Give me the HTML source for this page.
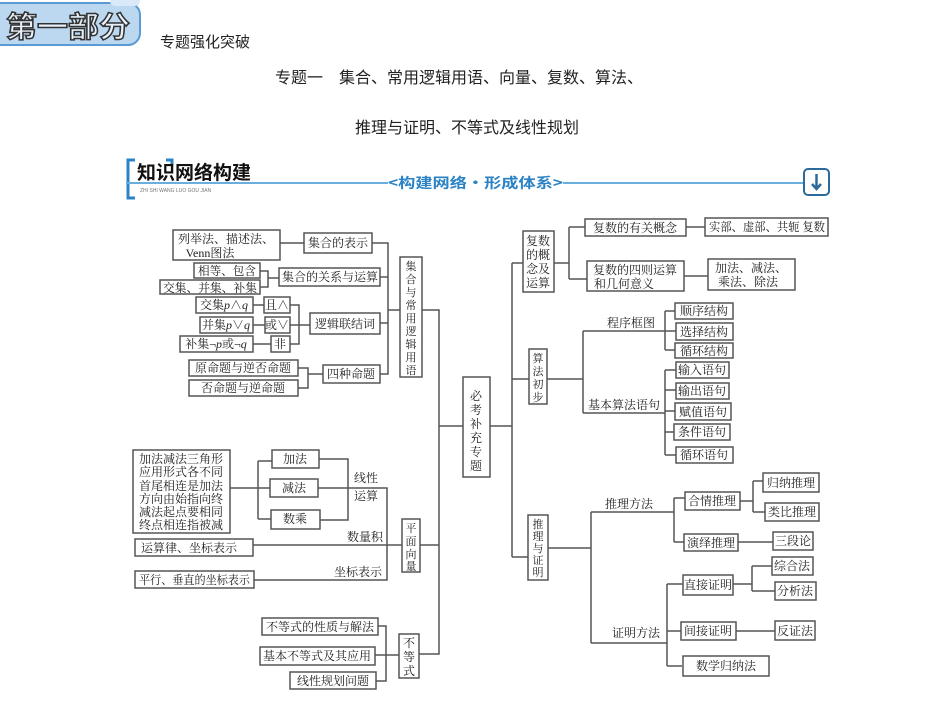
<!DOCTYPE html>
<html><head><meta charset="utf-8"><style>
html,body{margin:0;padding:0;background:#fff;}
svg{display:block;}
.b{fill:#fff;stroke:#555;stroke-width:1.5;}
.l{stroke:#555;stroke-width:1.5;fill:none;}
text{font-family:"Liberation Serif","Noto Serif CJK SC",serif;font-size:12px;fill:#222;}
.c{text-anchor:middle;}
.v{font-size:11px;}
</style></head><body>
<svg width="940" height="701" viewBox="0 0 940 701" xmlns="http://www.w3.org/2000/svg">
<!-- header -->
<rect x="-10" y="3" width="150" height="42" rx="12" fill="#bcd8f1" stroke="#5b9bd5" stroke-width="2"/>
<rect x="110" y="-6" width="30" height="12" rx="5" fill="#d9e9f7"/>
<text x="6" y="37" textLength="124" lengthAdjust="spacingAndGlyphs" style="font-family:'Noto Sans CJK SC',sans-serif;font-size:29px;font-weight:bold;fill:#e8f1fa;stroke:#333;stroke-width:1.5;">第一部分</text>
<text x="160" y="47" style="font-family:'Noto Sans CJK SC',sans-serif;font-size:15px;">专题强化突破</text>
<text x="275" y="83" style="font-family:'Noto Sans CJK SC',sans-serif;font-size:16px;">专题一　集合、常用逻辑用语、向量、复数、算法、</text>
<text x="355" y="133" style="font-family:'Noto Sans CJK SC',sans-serif;font-size:16px;">推理与证明、不等式及线性规划</text>
<!-- knowledge header -->
<path d="M135 160 H128 V198 H135" stroke="#2b83c6" stroke-width="3" fill="none"/>
<path d="M166 160 H172 V166" stroke="#2b83c6" stroke-width="3" fill="none"/>
<text x="137" y="179" style="font-family:'Noto Sans CJK SC',sans-serif;font-size:19px;font-weight:bold;fill:#111;">知识网络构建</text>
<line x1="126" y1="183" x2="388" y2="183" stroke="#6aaede" stroke-width="2"/>
<line x1="563" y1="183" x2="804" y2="183" stroke="#6aaede" stroke-width="2"/>
<text x="140" y="192" style="font-family:'Liberation Sans',sans-serif;font-size:5px;fill:#777;">ZHI  SHI  WANG LUO  GOU  JIAN</text>
<text x="388" y="188" textLength="175" lengthAdjust="spacingAndGlyphs" style="font-family:'Noto Sans CJK SC',sans-serif;font-size:14px;font-weight:bold;fill:#2b83c6;">&lt;构建网络·形成体系&gt;</text>
<rect x="804" y="169" width="25" height="26" rx="4" fill="#fff" stroke="#2b6a9a" stroke-width="2"/>
<path d="M816.5 174 V188 M812 184 L816.5 189 L821 184" stroke="#2b6a9a" stroke-width="2.5" fill="none"/>

<!-- left top: 集合 -->
<rect class="b" x="173" y="230" width="107" height="30"/>
<text class="c" x="226" y="243">列举法、描述法、</text><text class="c" x="210" y="257">Venn图法</text>
<line class="l" x1="280" y1="243" x2="304" y2="243"/>
<rect class="b" x="304" y="233" width="68" height="20"/><text class="c" x="338" y="247">集合的表示</text>
<rect class="b" x="194" y="263" width="66" height="15"/><text x="198" y="275" textLength="58" lengthAdjust="spacingAndGlyphs">相等、包含</text>
<rect class="b" x="160" y="280" width="100" height="14"/><text x="163" y="292" textLength="94" lengthAdjust="spacingAndGlyphs">交集、并集、补集</text>
<path class="l" d="M260 271 H268 V287 H260 M268 278 H279"/>
<rect class="b" x="279" y="268" width="101" height="18"/><text class="c" x="330" y="281">集合的关系与运算</text>
<rect class="b" x="196" y="297" width="57" height="16"/><text class="c" x="224" y="309">交集<tspan font-style="italic">p</tspan>∧<tspan font-style="italic">q</tspan></text>
<rect class="b" x="264" y="297" width="26" height="16"/><text class="c" x="277" y="309">且∧</text>
<rect class="b" x="200" y="317" width="53" height="16"/><text class="c" x="226" y="329">并集<tspan font-style="italic">p</tspan>∨<tspan font-style="italic">q</tspan></text>
<rect class="b" x="265" y="317" width="25" height="16"/><text class="c" x="277" y="329">或∨</text>
<rect class="b" x="180" y="336" width="73" height="16"/><text class="c" x="216" y="348">补集¬<tspan font-style="italic">p</tspan>或¬<tspan font-style="italic">q</tspan></text>
<rect class="b" x="271" y="336" width="19" height="16"/><text class="c" x="280" y="348">非</text>
<path class="l" d="M253 305 H264 M253 325 H265 M253 344 H271 M290 305 H299 V344 H290 M290 325 H310"/>
<rect class="b" x="310" y="313" width="70" height="21"/><text class="c" x="345" y="328">逻辑联结词</text>
<rect class="b" x="189" y="360" width="109" height="16"/><text class="c" x="243" y="372">原命题与逆否命题</text>
<rect class="b" x="189" y="380" width="109" height="16"/><text class="c" x="243" y="392">否命题与逆命题</text>
<path class="l" d="M298 368 H308 V388 H298 M308 374 H323"/>
<rect class="b" x="323" y="365" width="57" height="18"/><text class="c" x="351" y="378">四种命题</text>
<path class="l" d="M372 243 H388 V374 H380 M380 277 H388 M380 323 H388 M388 310 H400"/>
<rect class="b" x="400" y="257" width="22" height="120"/>
<g class="v">
<text class="c v" x="411" y="270">集</text><text class="c v" x="411" y="283">合</text><text class="c v" x="411" y="296">与</text><text class="c v" x="411" y="309">常</text><text class="c v" x="411" y="322">用</text><text class="c v" x="411" y="335">逻</text><text class="c v" x="411" y="348">辑</text><text class="c v" x="411" y="361">用</text><text class="c v" x="411" y="374">语</text>
</g>
<!-- main spine -->
<path class="l" d="M422 310 H439 V654 H419 M439 545 H420 M439 426 H463"/>
<rect class="b" x="463" y="377" width="27" height="100"/>
<text class="c" x="476" y="400">必</text><text class="c" x="476" y="414">考</text><text class="c" x="476" y="428">补</text><text class="c" x="476" y="442">充</text><text class="c" x="476" y="456">专</text><text class="c" x="476" y="470">题</text>
<path class="l" d="M490 426 H512 M512 263 V557 M512 263 H523 M512 379 H529 M512 557 H528"/>

<!-- 复数 -->
<rect class="b" x="523" y="231" width="31" height="61"/>
<text class="c" x="538" y="245">复数</text><text class="c" x="538" y="259">的概</text><text class="c" x="538" y="273">念及</text><text class="c" x="538" y="287">运算</text>
<path class="l" d="M554 263 H569 M569 227 V279 M569 227 H585 M569 279 H587"/>
<rect class="b" x="585" y="219" width="101" height="17"/><text class="c" x="635" y="232">复数的有关概念</text>
<line class="l" x1="686" y1="227" x2="705" y2="227"/>
<rect class="b" x="705" y="218" width="123" height="18"/><text x="709" y="231" textLength="116" lengthAdjust="spacingAndGlyphs">实部、虚部、共轭 复数</text>
<rect class="b" x="587" y="261" width="97" height="30"/><text class="c" x="635" y="274">复数的四则运算</text><text x="594" y="288">和几何意义</text>
<line class="l" x1="684" y1="276" x2="708" y2="276"/>
<rect class="b" x="708" y="259" width="87" height="31"/><text class="c" x="751" y="272">加法、减法、</text><text class="c" x="748" y="286">乘法、除法</text>

<!-- 算法 -->
<rect class="b" x="529" y="349" width="18" height="55"/>
<text class="c v" x="538" y="362">算</text><text class="c v" x="538" y="375">法</text><text class="c v" x="538" y="388">初</text><text class="c v" x="538" y="401">步</text>
<path class="l" d="M547 379 H583 M583 331 V413 M583 331 H665 M583 413 H665 M665 311 V350 M665 311 H675 M665 331 H676 M665 350 H675 M665 370 V455 M665 370 H676 M665 390 H676 M665 411 H675 M665 432 H674 M665 455 H676"/>
<text x="607" y="327">程序框图</text>
<text x="588" y="409">基本算法语句</text>
<rect class="b" x="675" y="303" width="58" height="16"/><text class="c" x="704" y="315">顺序结构</text>
<rect class="b" x="676" y="323" width="57" height="17"/><text class="c" x="704" y="336">选择结构</text>
<rect class="b" x="675" y="343" width="58" height="15"/><text class="c" x="704" y="355">循环结构</text>
<rect class="b" x="676" y="362" width="53" height="16"/><text class="c" x="702" y="374">输入语句</text>
<rect class="b" x="676" y="383" width="53" height="16"/><text class="c" x="702" y="395">输出语句</text>
<rect class="b" x="675" y="403" width="56" height="17"/><text class="c" x="703" y="416">赋值语句</text>
<rect class="b" x="674" y="424" width="56" height="16"/><text class="c" x="702" y="436">条件语句</text>
<rect class="b" x="676" y="447" width="57" height="16"/><text class="c" x="704" y="459">循环语句</text>

<!-- 推理与证明 -->
<rect class="b" x="528" y="515" width="20" height="65"/>
<text class="c v" x="538" y="528">推</text><text class="c v" x="538" y="540">理</text><text class="c v" x="538" y="552">与</text><text class="c v" x="538" y="564">证</text><text class="c v" x="538" y="576">明</text>
<path class="l" d="M548 548 H591 M591 512 V643 M591 512 H674 M591 643 H667 M674 498 V542 M674 498 H685 M674 542 H684 M740 501 H753 M753 481 V512 M753 481 H763 M753 512 H765 M738 542 H773 M667 584 V666 M667 584 H683 M667 631 H681 M667 666 H682 M733 584 H752 M752 566 V591 M752 566 H772 M752 591 H775 M736 631 H775"/>
<text x="605" y="508">推理方法</text>
<text x="612" y="637">证明方法</text>
<rect class="b" x="685" y="492" width="55" height="18"/><text class="c" x="712" y="505">合情推理</text>
<rect class="b" x="763" y="473" width="56" height="19"/><text class="c" x="791" y="487">归纳推理</text>
<rect class="b" x="765" y="503" width="54" height="18"/><text class="c" x="792" y="516">类比推理</text>
<rect class="b" x="684" y="534" width="54" height="17"/><text class="c" x="711" y="547">演绎推理</text>
<rect class="b" x="773" y="532" width="40" height="18"/><text class="c" x="793" y="545">三段论</text>
<rect class="b" x="683" y="575" width="50" height="20"/><text class="c" x="708" y="589">直接证明</text>
<rect class="b" x="772" y="557" width="41" height="18"/><text class="c" x="792" y="570">综合法</text>
<rect class="b" x="775" y="582" width="41" height="18"/><text class="c" x="795" y="595">分析法</text>
<rect class="b" x="681" y="622" width="55" height="18"/><text class="c" x="708" y="635">间接证明</text>
<rect class="b" x="775" y="621" width="40" height="19"/><text class="c" x="795" y="635">反证法</text>
<rect class="b" x="683" y="656" width="86" height="20"/><text class="c" x="726" y="670">数学归纳法</text>

<!-- 平面向量 -->
<rect class="b" x="133" y="450" width="97" height="83"/>
<text class="c" x="181" y="463">加法减法三角形</text><text class="c" x="181" y="476">应用形式各不同</text><text class="c" x="181" y="490">首尾相连是加法</text><text class="c" x="181" y="503">方向由始指向终</text><text class="c" x="181" y="516">减法起点要相同</text><text class="c" x="181" y="529">终点相连指被减</text>
<path class="l" d="M230 488 H270 M258 461 V519 M258 461 H272 M258 519 H271 M319 459 H348 V520 H320 M318 488 H387 V580 H254 M253 545 H402"/>
<rect class="b" x="272" y="450" width="47" height="18"/><text class="c" x="295" y="463">加法</text>
<rect class="b" x="270" y="479" width="48" height="18"/><text class="c" x="294" y="492">减法</text>
<rect class="b" x="271" y="510" width="49" height="19"/><text class="c" x="295" y="523">数乘</text>
<text x="354" y="482">线性</text><text x="354" y="500">运算</text>
<text x="347" y="541">数量积</text>
<text x="334" y="576">坐标表示</text>
<rect class="b" x="135" y="539" width="118" height="17"/><text x="141" y="552">运算律、坐标表示</text>
<rect class="b" x="135" y="571" width="119" height="17"/><text x="139" y="584" textLength="111" lengthAdjust="spacingAndGlyphs">平行、垂直的坐标表示</text>
<rect class="b" x="402" y="519" width="18" height="53"/>
<text class="c v" x="411" y="532">平</text><text class="c v" x="411" y="545">面</text><text class="c v" x="411" y="558">向</text><text class="c v" x="411" y="570">量</text>

<!-- 不等式 -->
<rect class="b" x="262" y="618" width="116" height="17"/><text class="c" x="320" y="631">不等式的性质与解法</text>
<rect class="b" x="260" y="647" width="115" height="18"/><text class="c" x="317" y="660">基本不等式及其应用</text>
<rect class="b" x="290" y="672" width="86" height="17"/><text class="c" x="333" y="685">线性规划问题</text>
<path class="l" d="M378 626 H386 V681 H376 M375 655 H399"/>
<rect class="b" x="399" y="634" width="20" height="44"/>
<text class="c" x="409" y="647">不</text><text class="c" x="409" y="661">等</text><text class="c" x="409" y="675">式</text>
</svg>
</body></html>
